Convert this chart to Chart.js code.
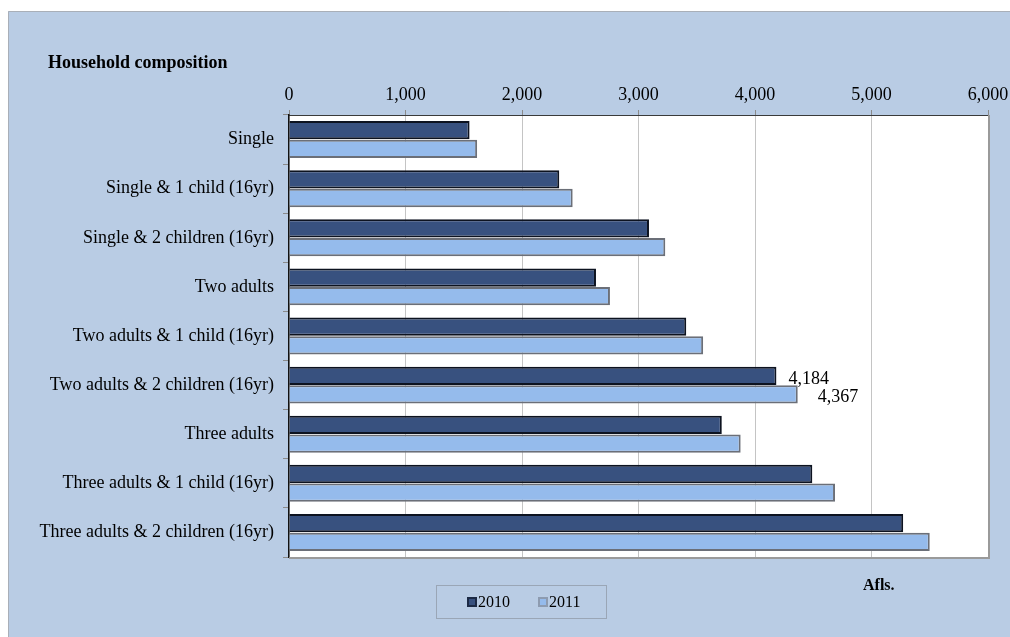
<!DOCTYPE html>
<html>
<head>
<meta charset="utf-8">
<script src="https://cdn.jsdelivr.net/npm/chart.js@4.4.1/dist/chart.umd.min.js"></script>
<style>
  html, body { margin: 0; padding: 0; background: #ffffff; }
  #wrap { width: 1010px; height: 637px; position: relative; }
  canvas { display: block; }
</style>
</head>
<body>
<div id="wrap"><canvas id="c" width="1010" height="637"></canvas></div>
<script>
const categories = [
  "Single",
  "Single & 1 child (16yr)",
  "Single & 2 children (16yr)",
  "Two adults",
  "Two adults & 1 child (16yr)",
  "Two adults & 2 children (16yr)",
  "Three adults",
  "Three adults & 1 child (16yr)",
  "Three adults & 2 children (16yr)"
];
const seriesNames = ["2010", "2011"];
const values2010 = [1550, 2320, 3090, 2635, 3410, 4184, 3715, 4492, 5272];
const values2011 = [1615, 2435, 3230, 2755, 3555, 4367, 3877, 4687, 5500];
const xTicks = [0, 1000, 2000, 3000, 4000, 5000, 6000];
const labelledCategory = "Two adults & 2 children (16yr)";
const chartTitle = "Household composition";
const unitLabel = "Afls.";

const SERIF = "'Liberation Serif', 'Times New Roman', serif";
const fmt = v => v.toLocaleString('en-US');

const colors = [
  { fill: '#38517f', border: '#0d1320' },
  { fill: '#95bbec', border: '#6b6f78' }
];

const decorPlugin = {
  id: 'decor',
  beforeDraw(chart) {
    const ctx = chart.ctx;
    const a = chart.chartArea;
    ctx.save();
    ctx.fillStyle = '#b9cce4';
    ctx.fillRect(8, 11, 1002, 626);
    ctx.strokeStyle = '#a9afb8';
    ctx.lineWidth = 1;
    ctx.beginPath();
    ctx.moveTo(8.5, 637); ctx.lineTo(8.5, 11.5); ctx.lineTo(1010, 11.5);
    ctx.stroke();
    ctx.fillStyle = '#ffffff';
    ctx.fillRect(a.left, a.top, a.right - a.left, a.bottom - a.top);
    ctx.restore();
  },
  afterDraw(chart) {
    const ctx = chart.ctx;
    const a = chart.chartArea;
    ctx.save();
    ctx.strokeStyle = '#9a9a9a';
    ctx.lineWidth = 2;
    ctx.beginPath();
    ctx.moveTo(a.right + 1, a.top);
    ctx.lineTo(a.right + 1, a.bottom + 1);
    ctx.lineTo(a.left, a.bottom + 1);
    ctx.stroke();

    ctx.fillStyle = '#000';
    ctx.font = "bold 18px " + SERIF;
    ctx.textBaseline = 'middle';
    ctx.textAlign = 'left';
    ctx.fillText(chartTitle, 48, 63);

    ctx.font = "bold 16px " + SERIF;
    ctx.fillText(unitLabel, 863, 586);

    const lx = 436, ly = 585, lw = 170, lh = 33;
    ctx.strokeStyle = '#9aa6b6';
    ctx.lineWidth = 1;
    ctx.strokeRect(lx + 0.5, ly + 0.5, lw, lh);
    const itemX = [467, 538];
    ctx.font = "16px " + SERIF;
    chart.data.datasets.forEach((ds, i) => {
      const x = itemX[i], y = 602;
      ctx.fillStyle = i === 0 ? '#1c2a45' : '#8d9bb0';
      ctx.fillRect(x, y - 5, 10, 10);
      ctx.fillStyle = ds.backgroundColor;
      ctx.fillRect(x + 2, y - 3, 6, 6);
      ctx.fillStyle = '#000';
      ctx.fillText(ds.label, x + 11, y + 1);
    });

    const idx = chart.data.labels.indexOf(labelledCategory);
    const offsets = [12, 20];
    ctx.font = "18px " + SERIF;
    ctx.fillStyle = '#000';
    chart.data.datasets.forEach((ds, i) => {
      const el = chart.getDatasetMeta(i).data[idx];
      if (!el) return;
      ctx.fillText(fmt(ds.data[idx]), el.x + offsets[i], el.y + 3);
    });
    ctx.restore();
  }
};

new Chart(document.getElementById('c'), {
  type: 'bar',
  data: {
    labels: categories,
    datasets: [
      { label: seriesNames[0], data: values2010, backgroundColor: colors[0].fill, borderColor: colors[0].border, borderWidth: 2, borderSkipped: 'left' },
      { label: seriesNames[1], data: values2011, backgroundColor: colors[1].fill, borderColor: colors[1].border, borderWidth: 2, borderSkipped: 'left' }
    ]
  },
  options: {
    indexAxis: 'y',
    responsive: false,
    animation: false,
    devicePixelRatio: 1,
    layout: { padding: { left: 0, top: 0, right: 22, bottom: 80 } },
    datasets: { bar: { categoryPercentage: 0.76, barPercentage: 0.98 } },
    plugins: { legend: { display: false }, tooltip: { enabled: false }, title: { display: false } },
    scales: {
      x: {
        position: 'top',
        min: xTicks[0],
        max: xTicks[xTicks.length - 1],
        afterBuildTicks(scale) { scale.ticks = xTicks.map(v => ({ value: v })); },
        afterFit(scale) { scale.height = 115; scale.paddingLeft = 0; scale.paddingRight = 0; },
        ticks: {
          color: '#000',
          font: { family: SERIF, size: 18 },
          padding: 4,
          callback: v => fmt(v)
        },
        grid: { color: '#c4c4c4', lineWidth: 1, tickLength: 5, tickColor: '#8a8a8a' },
        border: { display: true, color: '#3a3a3a', width: 1 }
      },
      y: {
        afterFit(scale) { scale.width = 289; },
        ticks: {
          color: '#000',
          font: { family: SERIF, size: 18 },
          padding: 9
        },
        grid: { drawOnChartArea: false, offset: true, tickLength: 6, tickColor: '#8a8a8a' },
        border: { display: true, color: '#111', width: 1.5 }
      }
    }
  },
  plugins: [decorPlugin]
});
</script>
</body>
</html>
